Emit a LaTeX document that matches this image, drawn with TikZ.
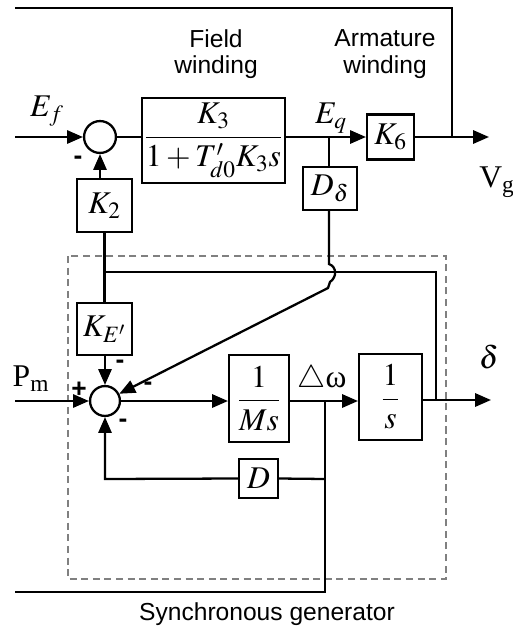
\documentclass[tikz,border=0pt]{standalone}
\usepackage{mathptmx}
\usepackage{fontspec}
\setmainfont{Liberation Serif}
\setsansfont{Liberation Sans}
\usetikzlibrary{arrows.meta}
\begin{document}
\begin{tikzpicture}[x=0.02cm,y=-0.02cm,
  line width=1.3pt,
  bx/.style n args={2}{draw,line width=1.3pt,inner sep=0pt,rectangle,
     minimum width=#1*0.567pt,minimum height=#2*0.567pt,
     font=\fontsize{18}{20}\selectfont},
  sumc/.style={draw,circle,line width=1.3pt,inner sep=0pt,minimum size=#1*0.567pt},
  arr/.style={-{Triangle[length=9pt,width=7.5pt]}},
  lbl/.style={font=\sffamily\fontsize{14}{16}\selectfont,align=center},
  sym/.style={font=\fontsize{18}{20}\selectfont,inner sep=0pt},
  sgn/.style={font=\sffamily\bfseries\fontsize{15}{15}\selectfont,inner sep=0pt},
  dbox/.style={draw=gray,line width=0.9pt,dash pattern=on 4pt off 2.6pt}]
\useasboundingbox (0,0) rectangle (513,630);

% nodes
\node[sumc=32] (c1) at (100,137) {};
\node[bx={143}{85}] (field) at (213.5,140.5) {$\displaystyle\frac{K_3}{1+T'_{d0}K_3 s}$};
\node[bx={47}{45}] (K6) at (390.5,137) {$K_6$};
\node[bx={54}{43}] (Dd) at (330,188.5) {$D_\delta$};
\node[bx={55}{53}] (K2) at (104.5,205.5) {$K_2$};
\node[bx={55}{52}] (KE) at (104.5,329) {$K_{E'}$};
\node[sumc=30] (c2) at (105,401) {};
\node[bx={60}{87}] (Ms) at (259,398.5) {$\displaystyle\frac{1}{Ms}$};
\node[bx={63}{87}] (si) at (390.5,397) {$\displaystyle\frac{1}{s}$};
\node[bx={39}{39}] (D) at (258.5,478.5) {$D$};

% dashed frame
\draw[dbox] (68,256) rectangle (446,579);

% coordinates
\coordinate (ef0) at (15,137);
\coordinate (top0) at (15,8);
\coordinate (top1) at (452,8);
\coordinate (vgj) at (452,137);
\coordinate (vgend) at (489,137);
\coordinate (eqj) at (329,137);
\coordinate (j1) at (104.5,272);
\coordinate (j2) at (436,272);
\coordinate (j3) at (436,400);
\coordinate (dend) at (491,400);
\coordinate (pm0) at (15,401);
\coordinate (wj) at (325,401);
\coordinate (wd) at (325,479);
\coordinate (wb) at (325,592);
\coordinate (b0) at (15,592);
\coordinate (dl) at (105,479);

% upper loop
\draw[arr] (ef0) -- (c1);
\draw (c1) -- (field.west |- c1);
\draw[arr] (field.east |- eqj) -- (K6.west |- eqj);
\draw (eqj) -- (eqj |- Dd.north);
\draw[arr] (K6.east) -- (vgend);
\draw (top0) -- (top1) -- (vgj);
\draw[arr] (c1.south |- K2.north) -- (c1.south);
\draw (K2.south) -- (KE.north);
\draw (j1) -- (j2) -- (j3);
\draw[arr] (KE.south -| c2) -- (c2.north);
\draw[arr] (Dd.south -| eqj) -- (329,264) .. controls (337,267) and (337,277) .. (330,282) -- (328,288) -- (c2);

% lower loop
\draw[arr] (pm0) -- (c2);
\draw[arr] (c2) -- (Ms.west |- c2);
\draw[arr] (Ms.east |- c2) -- (si.west |- c2);
\draw[arr] (si.east |- j3) -- (dend);
\draw (wj) -- (wb) -- (b0);
\draw (wd) -- (D.east);
\draw[arr] (D.west) -- (dl) -- (c2.south);

% labels
\node[lbl] at (216,54) {Field\\[-1pt]winding};
\node[lbl] at (385,54) {Armature\\[-1pt]winding};
\node[sym] at (47,111) {$E_f$};
\node[sym] at (331,118) {$E_q$};
\node[sym] at (497,182) {V\textsubscript{g}};
\node[sym] at (31,379) {P\textsubscript{m}};
\node[sym] at (489,357) {$\delta$};
\node[sym] at (322,380) {$\triangle$ω};
\node[lbl] at (267,614) {Synchronous generator};

% signs
\node[sgn] at (78,160) {-};
\node[sgn] at (120,364) {-};
\node[sgn] at (148,386) {-};
\node[sgn] at (123,423) {-};
\node[sgn] at (79,390) {+};
\end{tikzpicture}
\end{document}
